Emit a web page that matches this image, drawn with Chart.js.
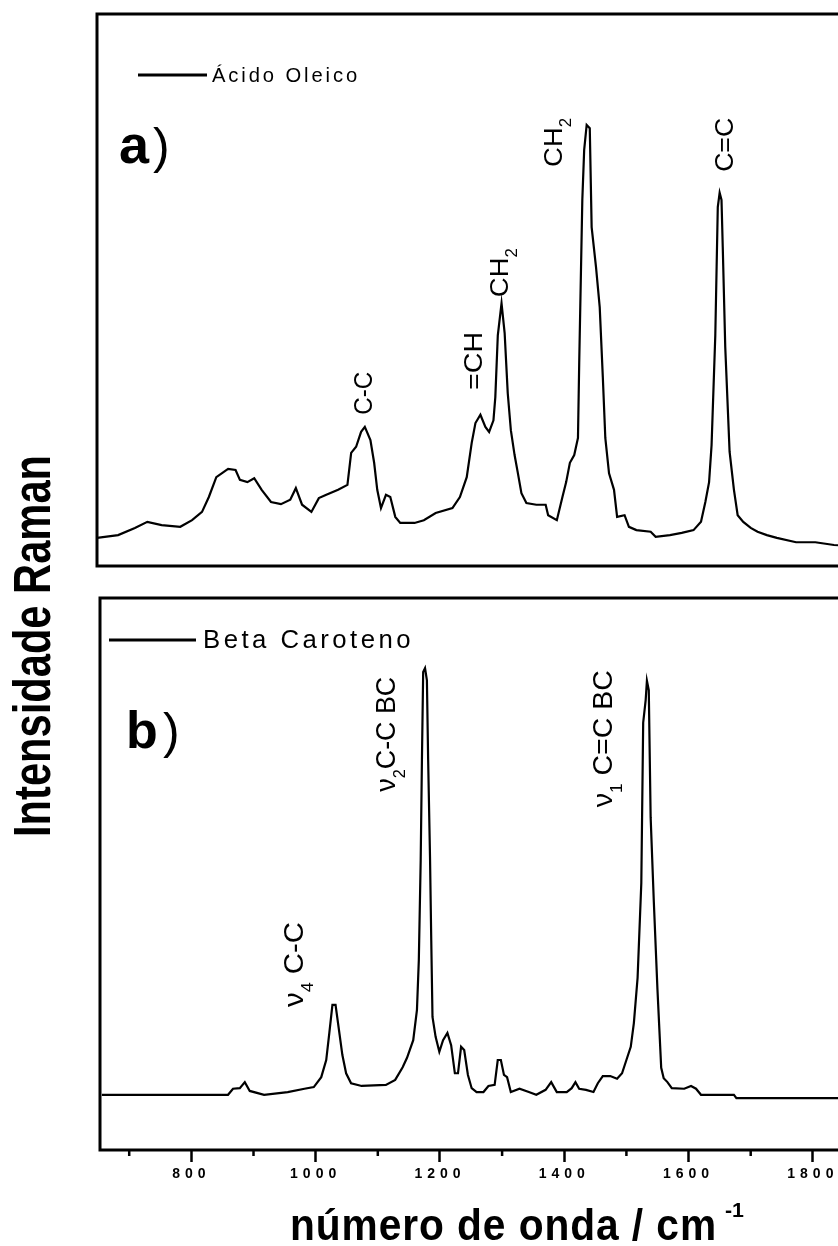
<!DOCTYPE html>
<html>
<head>
<meta charset="utf-8">
<script src="https://cdn.jsdelivr.net/npm/chart.js@4.4.1/dist/chart.umd.min.js"></script>
<style>
  html, body { margin: 0; padding: 0; background: #fff; overflow: hidden; }
  body { width: 838px; height: 1246px; position: relative; }
  canvas { position: absolute; left: 0; top: 0; }
</style>
</head>
<body>
<canvas id="topChart" width="900" height="1246"></canvas>
<canvas id="bottomChart" width="900" height="1246"></canvas>
<script>
// panel a) - oleic acid spectrum
const oleicWavenumber = [648, 682, 709, 729, 752, 782, 801, 817, 828, 840, 859, 871, 878, 890, 901, 913, 928, 944, 959, 968,
  978, 993, 1005, 1017, 1036, 1051, 1057, 1065, 1073, 1079, 1088, 1094, 1099, 1105, 1113, 1120, 1128, 1136, 1159, 1174,
  1193, 1220, 1232, 1243, 1251, 1257, 1265, 1273, 1279, 1286, 1289, 1293, 1299, 1304, 1309, 1314, 1320, 1325, 1331, 1339,
  1355, 1370, 1374, 1388, 1397, 1403, 1409, 1416, 1422, 1424, 1429, 1432, 1436, 1441, 1444, 1451, 1457, 1462, 1466, 1472,
  1480, 1485, 1497, 1504, 1516, 1539, 1547, 1570, 1589, 1608, 1620, 1627, 1633, 1637, 1643, 1647, 1650, 1653, 1655, 1659,
  1666, 1673, 1679, 1688, 1700, 1711, 1726, 1742, 1773, 1804, 1834, 1870, 1900];
const oleicIntensity = [5.1, 5.6, 6.9, 8.0, 7.4, 7.1, 8.3, 9.8, 12.5, 16.1, 17.6, 17.4, 15.6, 15.2, 15.9, 13.8, 11.6, 11.2, 12.0, 14.1,
  11.1, 9.8, 12.3, 12.9, 13.8, 14.7, 20.5, 21.6, 24.3, 25.2, 22.8, 18.7, 13.8, 10.5, 12.9, 12.5, 8.9, 7.8, 7.8, 8.3,
  9.6, 10.5, 12.5, 16.1, 22.3, 25.9, 27.4, 25.2, 24.3, 26.4, 30.6, 41.8, 47.6, 42.2, 31.3, 24.6, 20.1, 17.0, 13.2, 11.4,
  11.1, 11.1, 9.2, 8.3, 12.5, 15.2, 18.7, 20.1, 23.2, 36.8, 66.3, 75.4, 79.9, 79.3, 61.4, 54.2, 46.9, 34.2, 23.2, 16.8,
  13.8, 8.9, 9.2, 7.1, 6.5, 6.2, 5.3, 5.6, 6.0, 6.5, 8.0, 11.6, 15.2, 21.9, 41.8, 65.0, 67.6, 66.3, 57.8, 39.7,
  20.7, 13.8, 9.2, 8.0, 6.9, 6.2, 5.6, 5.1, 4.3, 4.3, 3.8, 3.6, 3.4];

// panel b) - beta carotene spectrum
const caroteneWavenumber = [656, 859, 867, 878, 886, 894, 917, 955, 982, 997, 1009, 1017, 1022, 1027, 1032, 1036, 1043, 1049, 1057, 1074,
  1113, 1128, 1140, 1147, 1157, 1163, 1166, 1169, 1171, 1173, 1176, 1179, 1181, 1184, 1186, 1188, 1193, 1199, 1205, 1212,
  1218, 1224, 1229, 1234, 1239, 1245, 1251, 1259, 1270, 1278, 1288, 1293, 1298, 1303, 1308, 1314, 1328, 1343, 1355, 1370,
  1379, 1388, 1404, 1412, 1418, 1424, 1435, 1447, 1454, 1462, 1474, 1485, 1493, 1500, 1507, 1512, 1518, 1524, 1527, 1531,
  1533, 1536, 1539, 1544, 1550, 1556, 1560, 1566, 1573, 1593, 1604, 1612, 1620, 1673, 1677, 1900];
const caroteneIntensity = [10.0, 10.0, 11.1, 11.2, 12.3, 10.7, 10.0, 10.5, 11.1, 11.4, 13.2, 16.3, 21.2, 26.3, 26.3, 23.0, 17.2, 13.9, 12.1, 11.6,
  11.8, 12.7, 15.0, 16.7, 19.9, 25.4, 34.4, 52.5, 70.7, 86.6, 87.3, 85.1, 70.7, 53.1, 38.0, 24.1, 20.5, 17.8, 19.9, 21.2,
  19.0, 13.9, 13.9, 18.7, 18.1, 13.6, 11.2, 10.5, 10.5, 11.6, 11.8, 16.3, 16.3, 13.6, 13.2, 10.5, 11.1, 10.5, 10.0, 10.9,
  12.3, 10.5, 10.5, 11.2, 12.3, 11.1, 10.9, 10.5, 12.1, 13.4, 13.4, 12.9, 13.9, 16.3, 18.7, 23.0, 31.2, 48.4, 77.4, 81.5,
  85.0, 83.3, 60.3, 45.3, 29.0, 14.9, 13.0, 12.3, 11.2, 11.1, 11.6, 11.1, 10.0, 10.0, 9.4, 9.4];

const minorTicks = [700, 900, 1100, 1300, 1500, 1700, 1900];

// band assignments, placed at [wavenumber, intensity] where the rotated text starts
const oleicBands = [
  { parts: [['C-C', 'n']], at: [1090.5, 27.4], len: 43 },
  { parts: [['=CH', 'n']], at: [1267.6, 31.9], len: 58 },
  { parts: [['CH', 'n'], ['2', 'sub']], at: [1309.5, 48.7], len: 49 },
  { parts: [['CH', 'n'], ['2', 'sub']], at: [1396.5, 72.3], len: 49 },
  { parts: [['C=C', 'n']], at: [1671.8, 71.4], len: 54 }
];
const caroteneBands = [
  { parts: [['ν', 'n'], ['4', 'sub'], [' C-C', 'n']], at: [979.7, 25.9], len: 85 },
  { parts: [['ν', 'n'], ['2', 'sub'], ['C-C BC', 'n']], at: [1127.5, 64.9], len: 115 },
  { parts: [['ν', 'n'], ['1', 'sub'], [' C=C BC', 'n']], at: [1477, 62.1], len: 137 }
];

const FAMILY = '"Liberation Sans", Arial, sans-serif';

// draws a run of text (with sub/superscripts), optionally rotated, squeezed to a given length
function drawText(ctx, parts, x, y, o) {
  const size = o.size;
  const weight = o.weight || 'normal';
  const fontFor = k => weight + ' ' + (k === 'n' ? size : Math.round(size * 0.62)) + 'px ' + FAMILY;
  ctx.save();
  ctx.letterSpacing = (o.spacing || 0) + 'px';
  ctx.fillStyle = '#000';
  ctx.textAlign = 'left';
  ctx.textBaseline = 'alphabetic';
  let total = 0;
  parts.forEach(([t, k]) => { ctx.font = fontFor(k); total += ctx.measureText(t).width; });
  ctx.translate(x, y);
  if (o.rotate) ctx.rotate(-Math.PI / 2);
  if (o.len) ctx.scale(o.len / total, 1);
  let cx = 0;
  parts.forEach(([t, k]) => {
    ctx.font = fontFor(k);
    const dy = k === 'sub' ? size * 0.36 : (k === 'sup' ? -size * 0.45 : 0);
    ctx.fillText(t, cx, dy);
    cx += ctx.measureText(t).width;
  });
  ctx.restore();
}

function drawFrame(chart) {
  const { ctx, chartArea: a } = chart;
  ctx.save();
  ctx.strokeStyle = '#000';
  ctx.lineWidth = 3;
  ctx.strokeRect(a.left, a.top, a.right - a.left, a.bottom - a.top);
  ctx.restore();
}

function legendLine(ctx, x1, x2, y) {
  ctx.save();
  ctx.strokeStyle = '#000';
  ctx.lineWidth = 3;
  ctx.beginPath();
  ctx.moveTo(x1, y);
  ctx.lineTo(x2, y);
  ctx.stroke();
  ctx.restore();
}

function drawBands(chart, bands, size) {
  const xs = chart.scales.x, ys = chart.scales.y;
  bands.forEach(b => {
    drawText(chart.ctx, b.parts, xs.getPixelForValue(b.at[0]), ys.getPixelForValue(b.at[1]),
      { size: size, rotate: true, len: b.len });
  });
}

function lineDataset(xs, ys) {
  return {
    data: xs.map((w, i) => ({ x: w, y: ys[i] })),
    borderColor: '#000',
    borderWidth: 2.2,
    pointRadius: 0,
    tension: 0,
    fill: false
  };
}

const baseOptions = {
  responsive: false,
  animation: false,
  events: [],
  plugins: { legend: { display: false }, tooltip: { enabled: false } }
};

// top panel
new Chart(document.getElementById('topChart'), {
  type: 'line',
  data: { datasets: [lineDataset(oleicWavenumber, oleicIntensity)] },
  options: {
    ...baseOptions,
    layout: { padding: { left: 97, top: 14, right: 900 - 875, bottom: 1246 - 566 } },
    scales: {
      x: { type: 'linear', min: 648, max: 1900, display: false },
      y: { min: 0, max: 100, display: false }
    }
  },
  plugins: [{
    id: 'panelA',
    afterDraw(chart) {
      const ctx = chart.ctx;
      drawFrame(chart);
      legendLine(ctx, 138, 207, 75);
      drawText(ctx, [['Ácido Oleico', 'n']], 212, 82, { size: 21, spacing: 3, len: 148 });
      drawText(ctx, [['a', 'n']], 119, 163, { size: 54, weight: 'bold' });
      drawText(ctx, [[')', 'n']], 153, 163, { size: 50 });
      drawBands(chart, oleicBands, 26);
    }
  }]
});

// bottom panel
new Chart(document.getElementById('bottomChart'), {
  type: 'line',
  data: { datasets: [lineDataset(caroteneWavenumber, caroteneIntensity)] },
  options: {
    ...baseOptions,
    layout: { padding: { left: 100, top: 598, right: 900 - 875, bottom: 0 } },
    scales: {
      x: {
        type: 'linear', min: 653, max: 1900,
        afterFit(scale) { scale.height = 96; },
        border: { display: false },
        grid: { drawOnChartArea: false, drawTicks: true, tickLength: 12, tickWidth: 2.5, tickColor: '#000' },
        ticks: {
          stepSize: 200, includeBounds: false, autoSkip: false, maxRotation: 0, padding: 4,
          color: '#000', font: { family: FAMILY, size: 14, weight: 'bold' },
          callback: v => String(v)
        }
      },
      y: { min: 0, max: 100, display: false }
    }
  },
  plugins: [{
    id: 'panelB',
    beforeDraw(chart) { chart.ctx.letterSpacing = '5px'; },
    afterDraw(chart) {
      const ctx = chart.ctx;
      const a = chart.chartArea;
      ctx.letterSpacing = '0px';
      drawFrame(chart);
      // minor ticks
      ctx.save();
      ctx.strokeStyle = '#000';
      ctx.lineWidth = 2.5;
      minorTicks.forEach(v => {
        const px = chart.scales.x.getPixelForValue(v);
        ctx.beginPath();
        ctx.moveTo(px, a.bottom);
        ctx.lineTo(px, a.bottom + 6);
        ctx.stroke();
      });
      ctx.restore();
      legendLine(ctx, 109, 196, 640);
      drawText(ctx, [['Beta Caroteno', 'n']], 203, 648, { size: 26, spacing: 3.5, len: 211 });
      drawText(ctx, [['b', 'n']], 126, 748, { size: 52, weight: 'bold' });
      drawText(ctx, [[')', 'n']], 163, 748, { size: 50 });
      drawBands(chart, caroteneBands, 28);
      // axis titles
      drawText(ctx, [['Intensidade Raman', 'n']], 50, 837, { size: 51, weight: 'bold', rotate: true, len: 382 });
      drawText(ctx, [['número de onda / cm', 'n']], 290, 1240, { size: 44, weight: 'bold', spacing: 1, len: 427 });
      drawText(ctx, [['-1', 'n']], 725, 1217, { size: 20, weight: 'bold', len: 19 });
    }
  }]
});
</script>
</body>
</html>
